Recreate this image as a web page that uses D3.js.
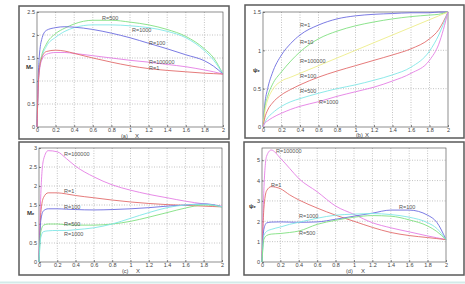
<!DOCTYPE html>
<head>
<meta charset="utf-8">
<script src="https://d3js.org/d3.v7.min.js"></script>
<style>
body { margin: 0; background: #fff; }
text { font-family: "Liberation Sans", Arial, sans-serif; }
</style>
</head>
<body>
<script>
// shared x samples
var xs = [0, 0.02, 0.05, 0.1, 0.2, 0.3, 0.4, 0.6, 0.8, 1.0, 1.2, 1.4, 1.6, 1.8, 1.9, 2.0];
var xTicks = [0, 0.2, 0.4, 0.6, 0.8, 1, 1.2, 1.4, 1.6, 1.8, 2];

// panel (a)
var aR500 = [0, 1.2, 1.55, 1.8, 2.03, 2.15, 2.24, 2.32, 2.32, 2.28, 2.22, 2.12, 1.97, 1.7, 1.5, 1.15];
var aR1000 = [0, 1.15, 1.5, 1.75, 1.95, 2.08, 2.16, 2.22, 2.22, 2.2, 2.16, 2.08, 1.94, 1.66, 1.45, 1.15];
var aR100 = [0, 1.4, 1.9, 2.1, 2.16, 2.18, 2.17, 2.12, 2.04, 1.94, 1.82, 1.7, 1.57, 1.44, 1.32, 1.15];
var aR100000 = [0, 1.1, 1.45, 1.58, 1.62, 1.62, 1.6, 1.55, 1.5, 1.45, 1.41, 1.36, 1.31, 1.24, 1.2, 1.15];
var aR1 = [0, 1.15, 1.5, 1.64, 1.67, 1.65, 1.6, 1.5, 1.41, 1.33, 1.27, 1.23, 1.2, 1.17, 1.16, 1.15];
var aTicks = [0, 0.5, 1, 1.5, 2, 2.5];

// panel (b)
var bR1 = [0, 0.3, 0.5, 0.7, 0.94, 1.09, 1.2, 1.33, 1.41, 1.45, 1.47, 1.48, 1.49, 1.49, 1.5, 1.5];
var bR10 = [0, 0.25, 0.4, 0.55, 0.72, 0.86, 0.98, 1.15, 1.25, 1.32, 1.37, 1.41, 1.44, 1.46, 1.47, 1.5];
var bR100000 = [0, 0.2, 0.35, 0.48, 0.6, 0.65, 0.7, 0.8, 0.9, 1.0, 1.1, 1.2, 1.3, 1.4, 1.45, 1.5];
var bR100 = [0, 0.12, 0.22, 0.31, 0.42, 0.49, 0.55, 0.65, 0.73, 0.8, 0.87, 0.94, 1.02, 1.15, 1.27, 1.5];
var bR500 = [0, 0.06, 0.12, 0.18, 0.27, 0.33, 0.37, 0.44, 0.5, 0.55, 0.61, 0.68, 0.78, 0.99, 1.2, 1.5];
var bR1000 = [0, 0.05, 0.08, 0.12, 0.18, 0.23, 0.27, 0.33, 0.4, 0.46, 0.52, 0.6, 0.7, 0.87, 1.08, 1.5];
var bTicks = [0, 0.5, 1, 1.5];

// panel (c)
var cR100000 = [0, 1.8, 2.7, 2.93, 2.9, 2.72, 2.52, 2.24, 2.03, 1.89, 1.78, 1.69, 1.6, 1.53, 1.5, 1.47];
var cR1 = [0, 1.3, 1.7, 1.82, 1.82, 1.79, 1.75, 1.69, 1.63, 1.58, 1.54, 1.51, 1.49, 1.47, 1.46, 1.45];
var cR100 = [0, 1.1, 1.35, 1.4, 1.4, 1.39, 1.38, 1.37, 1.38, 1.4, 1.43, 1.47, 1.5, 1.53, 1.51, 1.45];
var cR500 = [0, 0.8, 0.97, 1.0, 1.0, 0.98, 0.97, 0.97, 1.0, 1.07, 1.18, 1.3, 1.42, 1.5, 1.49, 1.45];
var cR1000 = [0, 0.65, 0.8, 0.82, 0.83, 0.83, 0.85, 0.9, 1.0, 1.15, 1.3, 1.43, 1.5, 1.52, 1.5, 1.45];
var cTicks = [0, 0.5, 1, 1.5, 2, 2.5, 3];

// panel (d)
var dR100000 = [0, 3.5, 5.2, 5.5, 5.1, 4.6, 4.1, 3.45, 2.75, 2.34, 1.93, 1.68, 1.48, 1.28, 1.19, 1.1];
var dR1 = [0, 2.6, 3.5, 3.7, 3.6, 3.3, 3.05, 2.65, 2.3, 2.0, 1.7, 1.45, 1.3, 1.2, 1.15, 1.1];
var dR100 = [0, 1.6, 1.92, 1.96, 1.97, 1.96, 1.95, 1.97, 2.1, 2.25, 2.4, 2.55, 2.55, 2.3, 1.95, 1.1];
var dR1000 = [0, 1.3, 1.5, 1.6, 1.72, 1.85, 1.95, 2.15, 2.3, 2.35, 2.38, 2.33, 2.2, 1.93, 1.65, 1.1];
var dR500 = [0, 1.1, 1.3, 1.37, 1.4, 1.45, 1.52, 1.85, 2.05, 2.2, 2.28, 2.25, 2.07, 1.77, 1.5, 1.1];
var dTicks = [0, 1, 2, 3, 4, 5];

var col = {
    blue: "#6c6ce0", green: "#80e080", cyan: "#80e6e6",
    red: "#e26c6c", magenta: "#e47ee4", yellow: "#eded8a"
};

var svg = d3.select("body").append("svg")
    .attr("width", 465)
    .attr("height", 284);

function drawPanel(p) {
    // outer frame
    svg.append("rect")
        .attr("x", p.frame[0]).attr("y", p.frame[1])
        .attr("width", p.frame[2] - p.frame[0])
        .attr("height", p.frame[3] - p.frame[1])
        .attr("fill", "#fff").attr("stroke", "#5a5a5a").attr("stroke-width", 1.5);

    var x = d3.scaleLinear().domain([0, 2]).range([p.plot[0], p.plot[2]]);
    var y = d3.scaleLinear().domain([0, p.ymax]).range([p.plot[3], p.plot[1]]);

    var g = svg.append("g");

    // dotted grid
    g.selectAll(".gx").data(xTicks.slice(1, -1)).enter().append("line")
        .attr("x1", d => x(d)).attr("x2", d => x(d))
        .attr("y1", p.plot[1]).attr("y2", p.plot[3])
        .attr("stroke", "#9a9a9a").attr("stroke-width", 0.6).attr("stroke-dasharray", "1,1.5");
    g.selectAll(".gy").data(p.yTicks.filter(t => t > 0 && t < p.ymax)).enter().append("line")
        .attr("y1", d => y(d)).attr("y2", d => y(d))
        .attr("x1", p.plot[0]).attr("x2", p.plot[2])
        .attr("stroke", "#9a9a9a").attr("stroke-width", 0.6).attr("stroke-dasharray", "1,1.5");

    // plot box
    g.append("rect")
        .attr("x", p.plot[0]).attr("y", p.plot[1])
        .attr("width", p.plot[2] - p.plot[0]).attr("height", p.plot[3] - p.plot[1])
        .attr("fill", "none").attr("stroke", "#444").attr("stroke-width", 0.6);

    // axes ticks
    g.append("g").attr("transform", "translate(0," + p.plot[3] + ")")
        .call(d3.axisBottom(x).tickValues(xTicks).tickSize(-2).tickPadding(1.2).tickFormat(d3.format("")))
        .call(a => a.select(".domain").remove());
    g.append("g").attr("transform", "translate(" + p.plot[0] + ",0)")
        .call(d3.axisLeft(y).tickValues(p.yTicks).tickSize(-2).tickPadding(2).tickFormat(d3.format("")))
        .call(a => a.select(".domain").remove());
    g.selectAll(".tick line").attr("stroke", "#444").attr("stroke-width", 0.6);
    g.selectAll(".tick text").attr("font-size", 5.5).attr("fill", "#444")
        .attr("font-family", "Liberation Sans, Arial, sans-serif");

    // curves
    var line = d3.line()
        .x((d, i) => x(xs[i]))
        .y(d => y(d))
        .curve(d3.curveMonotoneX);
    p.series.forEach(function(s) {
        g.append("path").datum(s.v)
            .attr("d", line)
            .attr("fill", "none")
            .attr("stroke", s.c)
            .attr("stroke-width", 0.9);
    });

    // curve labels
    p.series.forEach(function(s) {
        g.append("text")
            .attr("x", s.lx).attr("y", s.ly)
            .attr("font-size", 5.5).attr("fill", "#555")
            .text(s.name);
    });

    // axis captions
    g.append("text").attr("x", p.cap[0]).attr("y", p.cap[1])
        .attr("font-size", 5.5).attr("fill", "#444").text(p.letter);
    g.append("text").attr("x", p.cap[0] + p.cap[2]).attr("y", p.cap[1])
        .attr("font-size", 6).attr("fill", "#444").text("X");
    g.append("text").attr("x", p.ylab[0]).attr("y", p.ylab[1])
        .attr("font-size", 6).attr("font-weight", "bold").attr("fill", "#333").text(p.ylabText);
}

drawPanel({
    frame: [19, 6, 229, 139], plot: [37, 12, 223, 127], ymax: 2.5, yTicks: aTicks,
    letter: "(a)", cap: [121, 137.5, 14], ylab: [26, 69], ylabText: "Mₑ",
    series: [
        { name: "R=500", v: aR500, c: col.green, lx: 102, ly: 20 },
        { name: "R=1000", v: aR1000, c: col.cyan, lx: 132, ly: 32 },
        { name: "R=100", v: aR100, c: col.blue, lx: 149, ly: 45 },
        { name: "R=100000", v: aR100000, c: col.magenta, lx: 149, ly: 64 },
        { name: "R=1", v: aR1, c: col.red, lx: 149, ly: 70 }
    ]
});

drawPanel({
    frame: [245, 5, 464, 138], plot: [263, 12, 448, 127], ymax: 1.5, yTicks: bTicks,
    letter: "(b)", cap: [356, 137.3, 9], ylab: [253, 72], ylabText: "ψₑ",
    series: [
        { name: "R=1", v: bR1, c: col.blue, lx: 300, ly: 27 },
        { name: "R=10", v: bR10, c: col.green, lx: 300, ly: 44 },
        { name: "R=100000", v: bR100000, c: col.yellow, lx: 300, ly: 63 },
        { name: "R=100", v: bR100, c: col.red, lx: 300, ly: 78 },
        { name: "R=500", v: bR500, c: col.cyan, lx: 300, ly: 93 },
        { name: "R=1000", v: bR1000, c: col.magenta, lx: 319, ly: 104 }
    ]
});

drawPanel({
    frame: [19, 142, 229, 275], plot: [39, 148, 222, 262], ymax: 3, yTicks: cTicks,
    letter: "(c)", cap: [122, 272.5, 14], ylab: [27, 215], ylabText: "Mₑ",
    series: [
        { name: "R=100000", v: cR100000, c: col.magenta, lx: 64, ly: 156 },
        { name: "R=1", v: cR1, c: col.red, lx: 64, ly: 193 },
        { name: "R=100", v: cR100, c: col.blue, lx: 64, ly: 209 },
        { name: "R=500", v: cR500, c: col.green, lx: 64, ly: 226 },
        { name: "R=1000", v: cR1000, c: col.cyan, lx: 64, ly: 236 }
    ]
});

drawPanel({
    frame: [244, 142, 464, 275], plot: [262, 148, 446, 262], ymax: 5.6, yTicks: dTicks,
    letter: "(d)", cap: [346, 272.5, 15], ylab: [249, 208], ylabText: "ψₑ",
    series: [
        { name: "R=100000", v: dR100000, c: col.magenta, lx: 276, ly: 153 },
        { name: "R=1", v: dR1, c: col.red, lx: 271, ly: 187 },
        { name: "R=100", v: dR100, c: col.blue, lx: 399, ly: 209 },
        { name: "R=1000", v: dR1000, c: col.cyan, lx: 299, ly: 218 },
        { name: "R=500", v: dR500, c: col.green, lx: 299, ly: 235 }
    ]
});

// faint rule along the bottom edge
svg.append("line").attr("x1", 0).attr("x2", 465).attr("y1", 282.5).attr("y2", 282.5)
    .attr("stroke", "#d3ebe9").attr("stroke-width", 2);
</script>
</body>
